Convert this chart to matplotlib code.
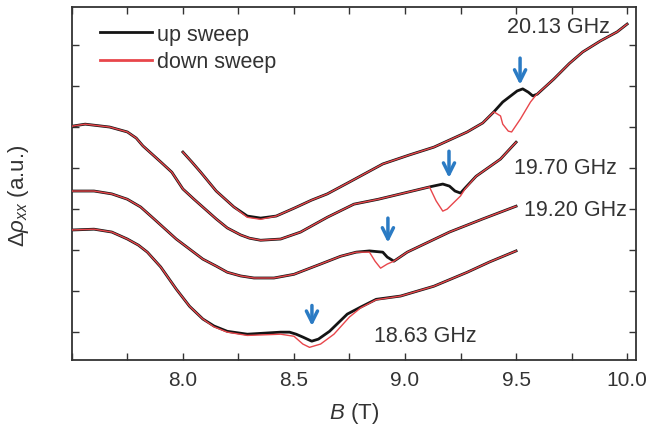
import numpy as np
import matplotlib
matplotlib.use("Agg")
import matplotlib.pyplot as plt
from matplotlib.ticker import MultipleLocator

plt.rcParams['font.family'] = ['Liberation Sans', 'DejaVu Sans']
plt.rcParams['mathtext.fontset'] = 'custom'
plt.rcParams['mathtext.rm'] = 'Liberation Sans'
plt.rcParams['mathtext.it'] = 'Liberation Sans:italic'

# 18.63 GHz
b_1863_up = [7.50, 7.60, 7.68, 7.75, 7.80, 7.84, 7.90, 7.97, 8.03, 8.09, 8.14, 8.20, 8.29, 8.44, 8.48,
             8.51, 8.54, 8.58, 8.61, 8.66, 8.74, 8.80, 8.87, 8.98, 9.13, 9.28, 9.38, 9.50]
y_1863_up = [2.49, 2.51, 2.44, 2.27, 2.12, 1.95, 1.59, 1.05, 0.63, 0.32, 0.15, 0.02, -0.05, 0.00, 0.00,
             -0.05, -0.12, -0.22, -0.17, 0.02, 0.44, 0.61, 0.80, 0.88, 1.12, 1.46, 1.71, 1.98]
b_1863_dn = [7.50, 7.60, 7.68, 7.75, 7.80, 7.84, 7.90, 7.97, 8.03, 8.09, 8.14, 8.20, 8.29, 8.44, 8.50,
             8.54, 8.57, 8.62, 8.68, 8.75, 8.80, 8.87, 8.98, 9.13, 9.28, 9.38, 9.50]
y_1863_dn = [2.49, 2.51, 2.44, 2.27, 2.12, 1.95, 1.59, 1.05, 0.63, 0.32, 0.13, 0.00, -0.08, -0.05, -0.10,
             -0.29, -0.37, -0.29, -0.05, 0.37, 0.59, 0.79, 0.88, 1.12, 1.46, 1.71, 1.98]

# 19.20 GHz
b_1920_up = [7.50, 7.60, 7.68, 7.75, 7.81, 7.87, 7.97, 8.09, 8.15, 8.20, 8.26, 8.32, 8.41, 8.50, 8.62,
             8.71, 8.78, 8.84, 8.90, 8.92, 8.95, 9.01, 9.20, 9.35, 9.50]
y_1920_up = [3.44, 3.44, 3.37, 3.24, 3.05, 2.76, 2.27, 1.78, 1.61, 1.46, 1.37, 1.32, 1.32, 1.41, 1.66,
             1.85, 1.95, 1.98, 1.95, 1.83, 1.73, 1.95, 2.44, 2.76, 3.07]
b_1920_dn = [7.50, 7.60, 7.68, 7.75, 7.81, 7.87, 7.97, 8.09, 8.15, 8.20, 8.26, 8.32, 8.41, 8.50, 8.62,
             8.71, 8.78, 8.84, 8.865, 8.89, 8.92, 8.95, 9.01, 9.20, 9.35, 9.50]
y_1920_dn = [3.44, 3.44, 3.37, 3.24, 3.05, 2.76, 2.27, 1.78, 1.61, 1.46, 1.37, 1.32, 1.32, 1.41, 1.66,
             1.85, 1.95, 1.95, 1.73, 1.56, 1.66, 1.73, 1.95, 2.44, 2.76, 3.07]

# 19.70 GHz
b_1970_up = [7.50, 7.56, 7.67, 7.75, 7.79, 7.82, 7.90, 7.95, 8.00, 8.05, 8.10, 8.15, 8.20, 8.26, 8.30,
             8.35, 8.44, 8.53, 8.65, 8.77, 8.88, 8.98, 9.11, 9.17, 9.20, 9.225, 9.25, 9.27, 9.32,
             9.43, 9.50]
y_1970_up = [5.02, 5.07, 5.00, 4.88, 4.73, 4.54, 4.15, 3.90, 3.49, 3.24, 3.00, 2.76, 2.54, 2.37, 2.29,
             2.24, 2.27, 2.44, 2.80, 3.12, 3.24, 3.37, 3.54, 3.61, 3.56, 3.44, 3.39, 3.51, 3.80,
             4.22, 4.63]
b_1970_dn = [7.50, 7.56, 7.67, 7.75, 7.79, 7.82, 7.90, 7.95, 8.00, 8.05, 8.10, 8.15, 8.20, 8.26, 8.30,
             8.35, 8.44, 8.53, 8.65, 8.77, 8.88, 8.98, 9.11, 9.14, 9.17, 9.19, 9.25, 9.27, 9.32,
             9.43, 9.50]
y_1970_dn = [5.02, 5.07, 5.00, 4.88, 4.73, 4.54, 4.15, 3.90, 3.49, 3.24, 3.00, 2.76, 2.54, 2.37, 2.29,
             2.24, 2.27, 2.44, 2.80, 3.12, 3.24, 3.37, 3.54, 3.20, 2.95, 3.00, 3.32, 3.49, 3.80,
             4.22, 4.63]

# 20.13 GHz
b_2013_up = [8.00, 8.04, 8.08, 8.15, 8.23, 8.29, 8.35, 8.42, 8.50, 8.58, 8.65, 8.75, 8.90, 9.02, 9.13,
             9.28, 9.35, 9.40, 9.44, 9.505, 9.53, 9.555, 9.575, 9.595, 9.67, 9.74, 9.80, 9.88, 9.955,
             10.00]
y_2013_up = [4.39, 4.15, 3.90, 3.44, 3.05, 2.83, 2.78, 2.83, 3.02, 3.22, 3.37, 3.66, 4.10, 4.32, 4.51,
             4.88, 5.10, 5.37, 5.61, 5.88, 5.93, 5.85, 5.76, 5.80, 6.17, 6.55, 6.83, 7.10, 7.32,
             7.51]
b_2013_dn = [8.00, 8.04, 8.08, 8.15, 8.23, 8.29, 8.35, 8.42, 8.50, 8.58, 8.65, 8.75, 8.90, 9.02, 9.13,
             9.28, 9.35, 9.40, 9.43, 9.44, 9.465, 9.48, 9.52, 9.565, 9.59, 9.67, 9.74, 9.80, 9.88,
             9.955, 10.00]
y_2013_dn = [4.39, 4.15, 3.90, 3.44, 3.05, 2.80, 2.75, 2.83, 3.02, 3.22, 3.37, 3.66, 4.10, 4.32, 4.51,
             4.88, 5.10, 5.37, 5.27, 5.07, 4.90, 4.88, 5.20, 5.61, 5.78, 6.17, 6.55, 6.83, 7.10,
             7.32, 7.51]

freq_labels = ['20.13 GHz', '19.70 GHz', '19.20 GHz', '18.63 GHz']
label_pos = [(9.69, 7.46), (9.72, 4.02), (9.766, 3.0), (9.09, -0.07)]
# arrows: (B, y start, y end)
arrows = [(9.518, 6.68, 6.03), (9.198, 4.41, 3.76), (8.923, 2.78, 2.18), (8.581, 0.65, 0.15)]

black = '#141414'
red = '#e8464b'
blue = '#2b7bc4'
grey = '#333333'

fig = plt.figure(figsize=(6.53, 4.35), dpi=100)
ax = fig.add_axes([0.110, 0.170, 0.864, 0.812])

ups = [(b_1863_up, y_1863_up), (b_1920_up, y_1920_up), (b_1970_up, y_1970_up), (b_2013_up, y_2013_up)]
dns = [(b_1863_dn, y_1863_dn), (b_1920_dn, y_1920_dn), (b_1970_dn, y_1970_dn), (b_2013_dn, y_2013_dn)]
for i, ((bu, yu), (bd, yd)) in enumerate(zip(ups, dns)):
    ax.plot(bu, yu, color=black, lw=2.0, label='up sweep' if i == 0 else None, zorder=2)
    ax.plot(bd, yd, color=red, lw=1.0, label='down sweep' if i == 0 else None, zorder=3)

for txt, (bx, by) in zip(freq_labels, label_pos):
    ax.text(bx, by, txt, ha='center', va='center', fontsize=15.5, color=grey)

for bx, y0, y1 in arrows:
    ax.annotate('', xy=(bx, y1), xytext=(bx, y0),
                arrowprops=dict(arrowstyle='->', color=blue, lw=2.5, mutation_scale=20,
                                shrinkA=0, shrinkB=0))

ax.set_xlim(7.5, 10.04)
ax.set_ylim(-0.68, 7.93)
ax.set_xticks([8.0, 8.5, 9.0, 9.5, 10.0])
ax.xaxis.set_minor_locator(MultipleLocator(0.25))
ax.set_yticks(range(8))
ax.set_yticklabels([])
ax.tick_params(which='both', direction='in', top=True, right=True, length=5, width=1.0,
               colors=grey, labelsize=15, labelcolor=grey, pad=7)
for s in ax.spines.values():
    s.set_linewidth(1.3)
    s.set_color(grey)

ax.set_xlabel(r'$B$ (T)', fontsize=16, color=grey, labelpad=8)
ax.set_ylabel(r'$\mathit{\Delta}\rho_{xx}$ (a.u.)', fontsize=16, color=grey)
ax.yaxis.set_label_coords(-0.072, 0.467)

leg = ax.legend(loc='upper left', bbox_to_anchor=(0.023, 0.995), frameon=False, fontsize=15.5,
                handlelength=2.4, handletextpad=0.25, labelspacing=0.3, borderpad=0.2)
for t in leg.get_texts():
    t.set_color(grey)
for h in leg.get_lines():
    h.set_linewidth(2.0)

fig.savefig('out.png', dpi=100)
